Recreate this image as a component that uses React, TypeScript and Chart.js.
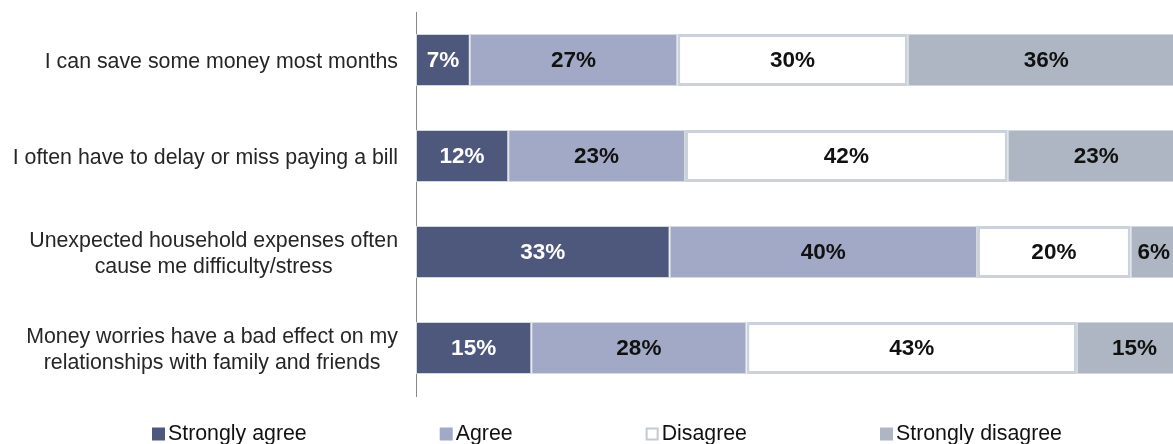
import React, { useEffect, useRef } from "react";
import { Chart, registerables } from "chart.js";

Chart.register(...registerables);

// ---- Data ----
const categories: string[][] = [
  ["I can save some money most months"],
  ["I often have to delay or miss paying a bill"],
  ["Unexpected household expenses often", "cause me difficulty/stress"],
  ["Money worries have a bad effect on my", "relationships with family and friends"],
];
const seriesNames = ["Strongly agree", "Agree", "Disagree", "Strongly disagree"];
const stronglyAgree = [7, 12, 33, 15];
const agree = [27, 23, 40, 28];
const disagree = [30, 42, 20, 43];
const stronglyDisagree = [36, 23, 6, 15];

// ---- Styles ----
const FONT = '"Liberation Sans", Arial, sans-serif';
const COLORS = ["#4e587c", "#a2a9c6", "#ffffff", "#adb6c2"];
const BORDERS = ["#d3d9e1", "#d3d9e1", "#cbd2db", "#d3d9e1"];
const BORDER_W = [1, 1, 3, 1];
const LABEL_COLORS = ["#ffffff", "#111111", "#111111", "#111111"];

const barLabelsPlugin = {
  id: "barLabels",
  afterDatasetsDraw(chart: any) {
    const ctx = chart.ctx;
    ctx.save();
    ctx.font = `bold 22.5px ${FONT}`;
    ctx.textAlign = "center";
    ctx.textBaseline = "middle";
    chart.data.datasets.forEach((ds: any, d: number) => {
      const meta = chart.getDatasetMeta(d);
      meta.data.forEach((el: any, i: number) => {
        const { x, base, y } = el.getProps(["x", "base", "y"], true);
        ctx.fillStyle = LABEL_COLORS[d];
        ctx.fillText(`${ds.data[i]}%`, (x + base) / 2, y + 1);
      });
    });
    ctx.restore();
  },
};

const yLabelsPlugin = {
  id: "yLabels",
  afterDraw(chart: any) {
    const ctx = chart.ctx;
    const yScale = chart.scales.y;
    const rightX = chart.chartArea.left - 18;
    const lh = 25.5;
    ctx.save();
    ctx.font = `21.33px ${FONT}`;
    ctx.fillStyle = "#262626";
    ctx.textAlign = "center";
    ctx.textBaseline = "middle";
    categories.forEach((lines, i) => {
      const y = yScale.getPixelForValue(i) + 2;
      const maxW = Math.max(...lines.map((l) => ctx.measureText(l).width));
      const cx = rightX - maxW / 2;
      const startY = y - ((lines.length - 1) * lh) / 2;
      lines.forEach((l, k) => ctx.fillText(l, cx, startY + k * lh));
    });
    ctx.restore();
  },
};

const legendPlugin = {
  id: "customLegend",
  afterDraw(chart: any) {
    const ctx = chart.ctx;
    ctx.save();
    ctx.font = `21.33px ${FONT}`;
    ctx.textBaseline = "middle";
    ctx.textAlign = "left";
    let x = 152;
    const yc = 434;
    const box = 13;
    const gap = 133;
    chart.data.datasets.forEach((ds: any, d: number) => {
      ctx.fillStyle = COLORS[d];
      ctx.fillRect(x, yc - box / 2, box, box);
      if (d === 2) {
        ctx.strokeStyle = "#c3cad4";
        ctx.lineWidth = 2;
        ctx.strokeRect(x + 1, yc - box / 2 + 1, box - 2, box - 2);
      }
      ctx.fillStyle = "#111111";
      ctx.fillText(ds.label, x + box + 3, yc);
      x += box + 3 + ctx.measureText(ds.label).width + gap;
    });
    ctx.restore();
  },
};

export default function App() {
  const ref = useRef<HTMLCanvasElement>(null);
  useEffect(() => {
    if (!ref.current) return;
    const series = [stronglyAgree, agree, disagree, stronglyDisagree];
    const chart = new Chart(ref.current, {
      type: "bar",
      data: {
        labels: categories,
        datasets: series.map((data, d) => ({
          label: seriesNames[d],
          data,
          backgroundColor: COLORS[d],
          borderColor: BORDERS[d],
          borderWidth: BORDER_W[d],
          borderSkipped: false,
          barPercentage: 0.54,
          categoryPercentage: 1,
        })),
      },
      options: {
        indexAxis: "y",
        responsive: false,
        animation: false,
        layout: { padding: { left: 416, top: 12, bottom: 48, right: 0 } },
        plugins: {
          legend: { display: false },
          tooltip: { enabled: false },
        },
        scales: {
          x: { stacked: true, min: 0, max: 98.5, display: false },
          y: {
            stacked: true,
            ticks: { display: false },
            grid: { display: false, drawTicks: false },
            border: { display: true, color: "#888888", width: 1 },
          },
        },
      } as any,
      plugins: [barLabelsPlugin, yLabelsPlugin, legendPlugin],
    });
    return () => chart.destroy();
  }, []);
  return (
    <div style={{ position: "fixed", left: 0, top: 0, width: 1173, height: 444, background: "#fff" }}>
      <canvas ref={ref} width={1173} height={444} />
    </div>
  );
}
